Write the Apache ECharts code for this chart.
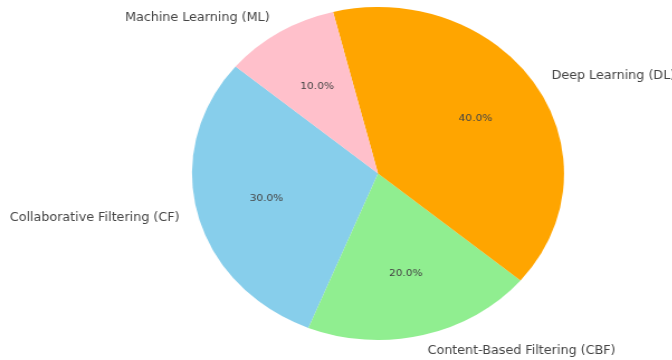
<!DOCTYPE html>
<html>
<head>
<meta charset="utf-8">
<script src="https://cdn.jsdelivr.net/npm/echarts@6/dist/echarts.min.js"></script>
<style>
html,body{margin:0;padding:0;background:#fff;overflow:hidden;}
#wrap{width:672px;height:360px;overflow:hidden;position:relative;}
#chart{width:601.5px;height:360px;transform:scaleX(1.1171);transform-origin:0 0;}
</style>
</head>
<body>
<div id="wrap"><div id="chart"></div></div>
<script>
const categories = ['Collaborative Filtering (CF)', 'Content-Based Filtering (CBF)', 'Deep Learning (DL)', 'Machine Learning (ML)'];
const values = [30, 20, 40, 10];
const colors = ['#87CEEB', '#90EE90', '#FFA500', '#FFC0CB'];

const R = 166.5;
const center = [338.4, 173.5];
const chart = echarts.init(document.getElementById('chart'), null, {renderer: 'canvas'});
const data = categories.map((c, i) => ({name: c, value: values[i], itemStyle: {color: colors[i]}}));
const ghost = categories.map((c, i) => ({name: c, value: values[i]}));

chart.setOption({
  backgroundColor: '#ffffff',
  animation: false,
  series: [
    {
      type: 'pie',
      center: center,
      radius: [0, R],
      startAngle: 140,
      clockwise: false,
      avoidLabelOverlap: false,
      silent: true,
      data: data,
      itemStyle: {borderWidth: 0},
      label: {
        show: true,
        position: 'outside',
        formatter: '{b}',
        fontFamily: 'DejaVu Sans',
        fontSize: 11.4,
        color: '#444444',
        distanceToLabelLine: 0
      },
      labelLine: {show: false, length: R * 0.1, length2: 0},
      emphasis: {disabled: true}
    },
    {
      type: 'pie',
      center: center,
      radius: [0, R * 1.2],
      startAngle: 140,
      clockwise: false,
      avoidLabelOverlap: false,
      silent: true,
      data: ghost,
      itemStyle: {color: 'rgba(0,0,0,0)', borderWidth: 0},
      label: {
        show: true,
        position: 'inside',
        formatter: function (p) { return p.percent.toFixed(1) + '%'; },
        fontFamily: 'DejaVu Sans',
        fontSize: 9.5,
        color: '#454545'
      },
      labelLine: {show: false},
      emphasis: {disabled: true}
    }
  ]
});
</script>
</body>
</html>
